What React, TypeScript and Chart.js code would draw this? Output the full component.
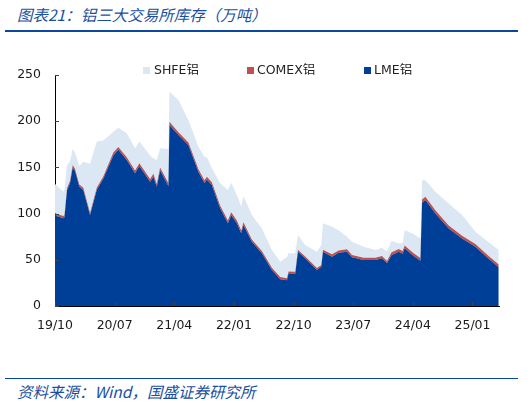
import React, { useEffect, useRef } from "react";
import { Chart, registerables } from "chart.js";

Chart.register(...registerables);

// months since 2019/10
const months = [0, 1.25, 1.43, 1.81, 2.27, 2.67, 3.02, 3.67, 4.27, 5.29, 6.3, 7.3, 8.8, 9.56, 10.83, 12.08, 12.73, 14.35, 14.85, 15.36, 15.86, 17.11, 17.27, 18.63, 20.14, 21.65, 22.55, 22.92, 23.67, 24.92, 26.09, 26.59, 27.45, 28.1, 28.44, 29.71, 31.22, 32.73, 33.99, 35.0, 35.24, 36.25, 36.66, 37.76, 39.53, 40.18, 40.44, 41.8, 42.79, 44.06, 44.82, 46.57, 48.34, 49.35, 50.1, 50.76, 51.86, 52.46, 52.76, 54.12, 55.14, 55.39, 55.89, 57.4, 59.41, 61.43, 63.44, 65.35, 66.96];

const lme = [98, 95, 96, 125, 133, 150, 146, 129, 125.5, 98.5, 125.5, 138, 163, 169, 158, 143.6, 151.5, 134.5, 140, 129, 147, 130, 196, 185, 174, 145, 133, 137, 131, 105.7, 89.5, 98.5, 89.5, 78.7, 87.7, 69.6, 57, 39, 29, 28, 35.4, 35, 58.8, 51.6, 39, 42.5, 58.8, 53.4, 57.7, 58.8, 52.7, 49.8, 49.8, 51.6, 46.2, 55, 58.8, 56.5, 62.4, 54, 49, 111.8, 114.7, 100, 84, 73, 64, 51.6, 42];

const comex = [2.5, 2.5, 2.5, 2.5, 2.5, 2.5, 2.5, 2.5, 2.5, 2.5, 2.5, 2.5, 3, 3, 3, 3, 3, 3, 3, 3, 3, 3, 3.5, 3, 3, 3, 3, 3, 3, 3, 3, 3, 3, 3, 3, 2.5, 2.5, 2.5, 2.5, 2, 2, 2, 2, 2, 2, 2, 2, 2.5, 2.5, 2.5, 2.5, 2.5, 2.5, 2.5, 2.5, 3, 3, 3, 3, 3, 3, 3.5, 3.5, 3.5, 3, 3, 3, 3, 3];

const shfe = [31.5, 26.5, 27.5, 24.5, 21.5, 17.5, 17.5, 20, 28, 53, 50, 38.5, 22.6, 21, 26, 24, 23.5, 25.5, 17, 26, 20.6, 37, 32.5, 35, 24, 24, 25.6, 21, 15, 24.1, 33, 32, 27.5, 25.8, 28.3, 26.4, 24.5, 19.1, 16.5, 23, 19.6, 20, 16, 12.4, 17.8, 21.5, 28.7, 29.9, 21.8, 13.7, 14.4, 11.9, 8.3, 8.9, 10.1, 12.7, 6.2, 8.5, 16.6, 21, 21, 20.7, 17.8, 20.2, 24, 22.5, 13.4, 15, 15.6];

const tickMonths = [0, 9, 18, 27, 36, 45, 54, 63];
const tickLabels = ["19/10", "20/07", "21/04", "22/01", "22/10", "23/07", "24/04", "25/01"];
const yTicks = [0, 50, 100, 150, 200, 250];

const seriesNames = ["LME铝", "COMEX铝", "SHFE铝"];
const colors = ["#003F98", "#C0504D", "#DCE7F4"];

const FONT = "'DejaVu Sans', 'Noto Sans CJK SC', sans-serif";
const CJK = "'Noto Sans CJK SC', sans-serif";
const BLUE = "#1A4F9F";

const innerTicks = {
  id: "innerTicks",
  afterDatasetsDraw(chart: any) {
    const { ctx, chartArea, scales } = chart;
    ctx.save();
    ctx.strokeStyle = "#444";
    ctx.lineWidth = 1;
    yTicks.forEach((v) => {
      const y = Math.round(scales.y.getPixelForValue(v)) + 0.5;
      ctx.beginPath();
      ctx.moveTo(chartArea.left, y);
      ctx.lineTo(chartArea.left + 4, y);
      ctx.stroke();
    });
    tickMonths.forEach((m) => {
      const x = Math.round(scales.x.getPixelForValue(m)) + 0.5;
      ctx.beginPath();
      ctx.moveTo(x, chartArea.bottom);
      ctx.lineTo(x, chartArea.bottom - 4);
      ctx.stroke();
    });
    ctx.restore();
  },
};

export default function App() {
  const ref = useRef<HTMLCanvasElement | null>(null);

  useEffect(() => {
    document.body.style.margin = "0";
    if (!ref.current) return;
    const series = [lme, comex, shfe];
    const chart = new Chart(ref.current, {
      type: "line",
      data: {
        datasets: series.map((s, i) => ({
          label: seriesNames[i],
          data: months.map((m, j) => ({ x: m, y: s[j] })),
          backgroundColor: colors[i],
          borderColor: colors[i],
          borderWidth: 0,
          pointRadius: 0,
          fill: i === 0 ? "origin" : "-1",
          tension: 0,
        })),
      },
      options: {
        animation: false,
        responsive: false,
        maintainAspectRatio: false,
        layout: { padding: { top: 35, right: 33, left: 0, bottom: 0 } },
        plugins: {
          legend: { display: false },
          tooltip: { enabled: false },
        },
        scales: {
          x: {
            type: "linear",
            min: 0,
            max: 67,
            grid: { display: false, drawTicks: false },
            border: { display: true, color: "#000", width: 1 },
            afterBuildTicks: (axis: any) => {
              axis.ticks = tickMonths.map((v) => ({ value: v }));
            },
            afterFit: (axis: any) => {
              axis.height = 44;
            },
            ticks: {
              autoSkip: false,
              maxRotation: 0,
              padding: 12,
              color: "#1a1a1a",
              font: { family: FONT, size: 12.5 },
              callback: (v: any) => {
                const k = tickMonths.indexOf(Number(v));
                return k >= 0 ? tickLabels[k] : "";
              },
            },
          },
          y: {
            stacked: true,
            min: 0,
            max: 250,
            grid: { display: false, drawTicks: false },
            border: { display: true, color: "#000", width: 1 },
            afterBuildTicks: (axis: any) => {
              axis.ticks = yTicks.map((v) => ({ value: v }));
            },
            afterFit: (axis: any) => {
              axis.width = 55;
            },
            ticks: {
              padding: 14,
              color: "#1a1a1a",
              font: { family: FONT, size: 12.5 },
            },
          },
        },
      },
      plugins: [innerTicks],
    } as any);
    return () => chart.destroy();
  }, []);

  const legendItems = [
    { name: seriesNames[2], color: colors[2], sx: 143, tx: 154 },
    { name: seriesNames[1], color: colors[1], sx: 247, tx: 257 },
    { name: seriesNames[0], color: colors[0], sx: 364, tx: 374 },
  ];

  return (
    <div style={{ position: "relative", width: 532, height: 403, background: "#fff", overflow: "hidden" }}>
      <div
        style={{
          position: "absolute",
          left: 17,
          top: 4,
          fontFamily: CJK,
          fontStyle: "italic",
          fontSize: 15.5,
          color: BLUE,
          whiteSpace: "nowrap",
          lineHeight: "20px",
        }}
      >
        图表21：铝三大交易所库存（万吨）
      </div>
      <div style={{ position: "absolute", left: 5, top: 29.5, width: 513, height: 2.5, background: "#0B47A0" }} />
      <canvas
        ref={ref}
        width={532}
        height={310}
        style={{ position: "absolute", left: 0, top: 40, width: 532, height: 310 }}
      />
      {legendItems.map((it) => (
        <React.Fragment key={it.name}>
          <div
            style={{
              position: "absolute",
              left: it.sx,
              top: 67,
              width: 7,
              height: 7,
              background: it.color,
            }}
          />
          <div
            style={{
              position: "absolute",
              left: it.tx,
              top: 62,
              fontFamily: FONT,
              fontSize: 12.5,
              color: "#222",
              lineHeight: "16px",
              whiteSpace: "nowrap",
            }}
          >
            {it.name}
          </div>
        </React.Fragment>
      ))}
      <div style={{ position: "absolute", left: 5, top: 377.5, width: 513, height: 1.5, background: "#0B47A0" }} />
      <div
        style={{
          position: "absolute",
          left: 17,
          top: 381,
          fontFamily: CJK,
          fontStyle: "italic",
          fontSize: 15.5,
          color: BLUE,
          whiteSpace: "nowrap",
          lineHeight: "20px",
        }}
      >
        资料来源：Wind，国盛证券研究所
      </div>
    </div>
  );
}
